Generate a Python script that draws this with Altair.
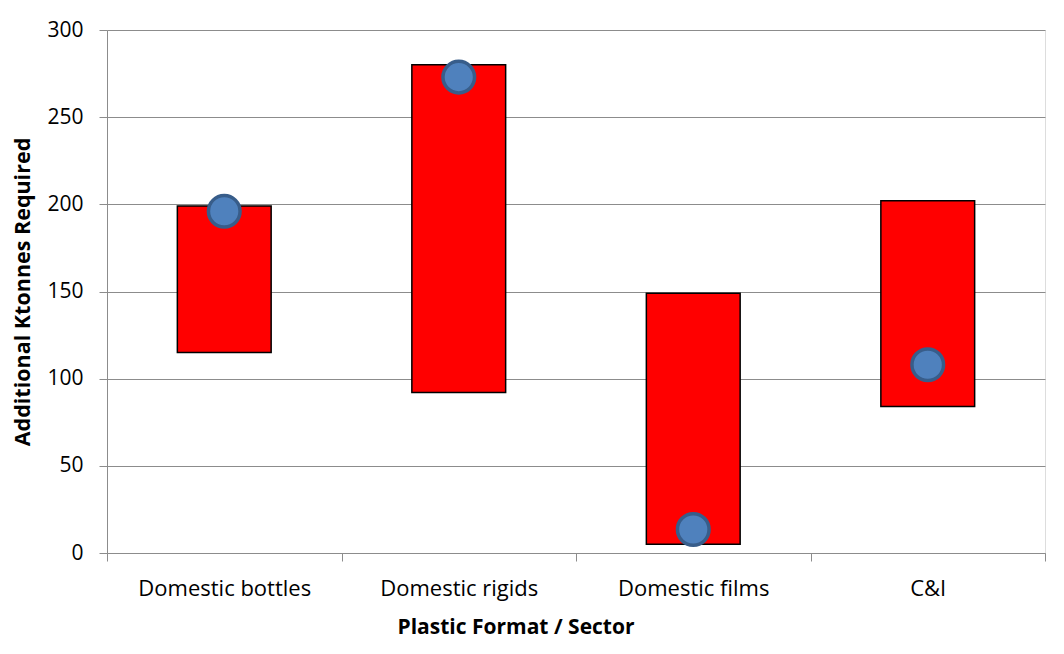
import altair as alt
import pandas as pd

# Additional recycling capacity needed, by plastic format / sector (ktonnes)
sectors = ["Domestic bottles", "Domestic rigids", "Domestic films", "C&I"]
range_low = [115, 92, 5, 84]
range_high = [199, 280, 149, 202]
central = [196, 273, 13.5, 108]

df = pd.DataFrame({
    "sector": sectors,
    "low": range_low,
    "high": range_high,
    "central": central,
})

FONT = "Open Sans"
GRID = "#8c8c8c"

x_enc = alt.X(
    "sector:N",
    sort=sectors,
    scale=alt.Scale(type="band", paddingInner=0, paddingOuter=0),
    axis=alt.Axis(
        title="Plastic Format / Sector",
        labelAngle=0,
        tickBand="extent",
        grid=False,
        domainColor=GRID,
        tickColor=GRID,
        tickSize=8,
        labelPadding=17,
        labelFontSize=22,
        labelFont=FONT,
        labelColor="#000000",
        titleFont=FONT,
        titleFontSize=21,
        titleFontWeight="bold",
        titleColor="#000000",
        titlePadding=17,
        titleX=408.5,
        titleAlign="center",
    ),
)

y_scale = alt.Scale(domain=[0, 300], nice=False)
y_axis = alt.Axis(
    title="Additional Ktonnes Required",
    values=[0, 50, 100, 150, 200, 250, 300],
    grid=True,
    gridColor=GRID,
    domainColor=GRID,
    tickColor=GRID,
    tickSize=8,
    labelPadding=16,
    labelFontSize=21,
    labelFont=FONT,
    labelColor="#000000",
    titleFont=FONT,
    titleFontSize=21.5,
    titleFontWeight="bold",
    titleColor="#000000",
    titlePadding=12,
)

bars = alt.Chart(df).mark_bar(
    color="#ff0000", stroke="#000000", strokeWidth=1.5,
    width=alt.RelativeBandSize(0.4),
).encode(
    x=x_enc,
    y=alt.Y("low:Q", scale=y_scale, axis=y_axis),
    y2="high:Q",
)

points = alt.Chart(df).mark_circle(
    color="#4f81bd", stroke="#385d8a", strokeWidth=3.5, size=1000, opacity=1
).encode(
    x=alt.X("sector:N", sort=sectors),
    y=alt.Y("central:Q", scale=y_scale),
)

chart = alt.layer(bars, points).properties(
    width=938,
    height=523,
    autosize=alt.AutoSizeParams(type="none"),
    padding={"left": 107, "top": 30, "right": 19, "bottom": 101},
).configure_view(stroke=None).configure(background="#ffffff")

chart.save("out.html", embed_options={"renderer": "svg", "actions": False})
